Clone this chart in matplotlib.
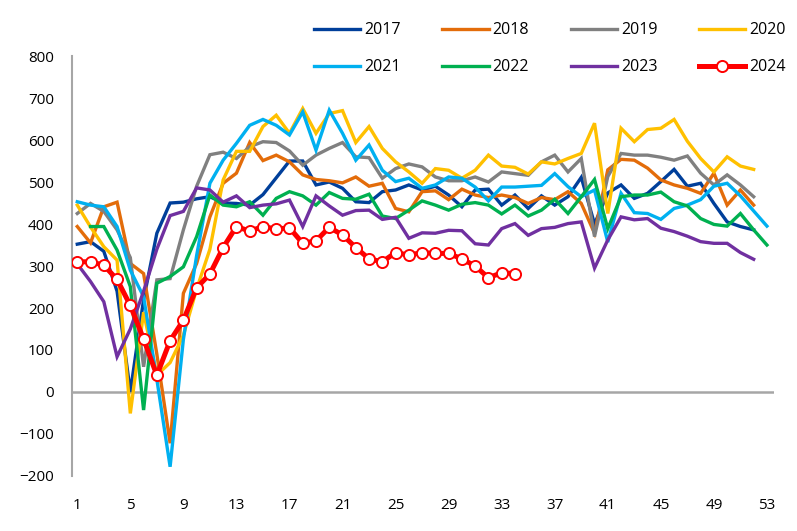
import numpy as np
import matplotlib
matplotlib.use("Agg")
import matplotlib.pyplot as plt

plt.rcParams['font.family'] = ['Open Sans', 'DejaVu Sans']

nan = np.nan
y2017 = [352,358,335,240,0,220,378,450,452,460,465,450,449,445,470,510,550,550,493,500,485,453,451,477,481,493,481,490,469,441,481,483,445,469,437,467,445,465,511,400,474,493,461,473,501,530,490,497,449,405,394,386]
y2018 = [394,355,441,452,306,282,90,-122,235,306,417,497,521,594,551,564,548,517,506,503,498,512,490,497,437,429,477,479,458,483,469,463,469,463,449,463,458,477,449,378,529,554,552,533,505,493,485,473,521,445,481,445]
y2019 = [425,449,430,386,320,60,267,270,386,490,565,571,556,584,596,594,574,540,564,580,594,560,558,509,532,543,536,512,503,503,512,500,524,520,516,548,564,524,556,370,513,568,564,564,559,552,562,521,493,517,493,465]
y2020 = [445,393,346,314,-51,190,40,70,135,245,340,505,573,573,632,659,616,675,616,663,670,594,632,580,548,524,497,532,528,509,528,564,538,535,519,548,543,556,568,640,425,628,596,625,628,649,597,556,524,560,538,530]
y2021 = [453,445,441,394,290,227,30,-178,125,325,497,552,592,635,649,635,612,667,576,671,616,552,588,528,501,509,485,493,512,509,488,455,488,488,490,492,520,489,465,481,357,473,427,425,411,437,445,458,490,497,467,431,395]
y2022 = [nan,394,394,338,251,-43,259,275,298,370,469,445,441,453,421,461,477,467,445,475,461,459,471,419,413,433,455,445,433,447,451,445,424,445,419,433,459,425,465,506,389,465,469,469,476,453,443,413,399,395,425,386,350]
y2023 = [305,263,215,84,150,240,340,420,430,486,481,452,467,439,445,448,457,394,467,443,421,432,433,411,416,366,379,378,385,384,353,350,389,401,373,389,392,401,405,295,362,417,410,413,390,382,371,358,354,354,332,316]
y2024 = [310,310,302,268,206,126,40,122,171,248,281,344,394,383,394,388,391,354,360,392,374,344,317,310,332,326,332,330,330,317,300,272,284,282]

series = [("2017", y2017, '#003f9a'), ("2018", y2018, '#e36c0a'),
          ("2019", y2019, '#808080'), ("2020", y2020, '#ffc000'),
          ("2021", y2021, '#00b0f0'), ("2022", y2022, '#00b050'),
          ("2023", y2023, '#7030a0')]

xticks = list(range(1, 54, 4))
yticks = list(range(-200, 801, 100))

fig = plt.figure(figsize=(7.97, 5.31), dpi=100)
ax = fig.add_axes([0.0903, 0.1036, 0.9706 - 0.0903, 0.8945 - 0.1036])

handles = []
for name, vals, col in series:
    x = np.arange(1, len(vals) + 1)
    h, = ax.plot(x, vals, color=col, lw=2.4, label=name, solid_joinstyle='miter')
    handles.append(h)
x = np.arange(1, len(y2024) + 1)
h, = ax.plot(x, y2024, color='#ff0000', lw=3.6, marker='o', markersize=8,
             markerfacecolor='white', markeredgecolor='#ff0000', markeredgewidth=1.4,
             label="2024", zorder=5)
handles.append(h)

ax.axhline(0, color='#a6a6a6', lw=1.8, zorder=0)
ax.set_xlim(0.6, 53.5)
ax.set_ylim(-200, 800)
ax.set_xticks(xticks)
ax.set_yticks(yticks)
ax.tick_params(axis='both', length=0, labelsize=11, colors='black')
ax.tick_params(axis='y', pad=13)
ax.tick_params(axis='x', pad=16)
for s in ['top', 'right', 'bottom']:
    ax.spines[s].set_visible(False)
ax.spines['left'].set_color('#a6a6a6')
ax.spines['left'].set_linewidth(1.5)

# row-major legend order (matplotlib fills columns first)
order = [0, 4, 1, 5, 2, 6, 3, 7]
lh = [handles[i] for i in order]
fig.legend(handles=lh, labels=[h.get_label() for h in lh], ncol=4,
           loc='center', bbox_to_anchor=(0.69, 0.908), frameon=False,
           fontsize=11.5, handlelength=2.9, handletextpad=0.25,
           columnspacing=2.6, labelspacing=1.3)

fig.savefig("out.png", dpi=100)
